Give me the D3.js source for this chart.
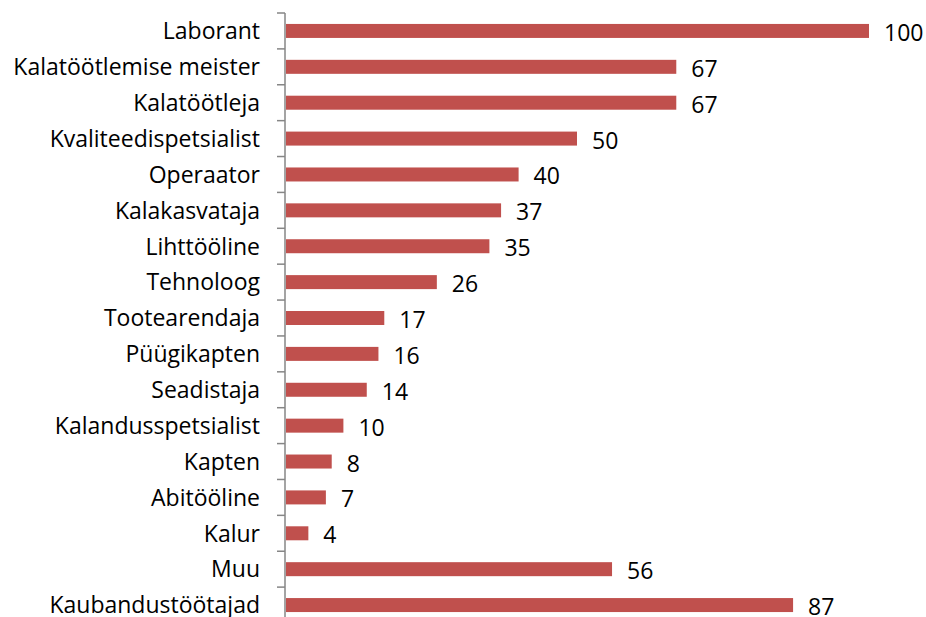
<!DOCTYPE html>
<html>
<head>
<meta charset="utf-8">
<script src="https://cdn.jsdelivr.net/npm/d3@7"></script>
<style>
  body { margin: 0; background: #fff; overflow: hidden; }
  text { font-family: "Open Sans", sans-serif; }
</style>
</head>
<body>
<div id="chart"></div>
<script>
// categories top to bottom
const categories = ["Laborant", "Kalatöötlemise meister", "Kalatöötleja", "Kvaliteedispetsialist",
    "Operaator", "Kalakasvataja", "Lihttööline", "Tehnoloog", "Tootearendaja", "Püügikapten",
    "Seadistaja", "Kalandusspetsialist", "Kapten", "Abitööline", "Kalur", "Muu", "Kaubandustöötajad"];
const values = [100, 67, 67, 50, 40, 37, 35, 26, 17, 16, 14, 10, 8, 7, 4, 56, 87];

const width = 926, height = 617;
const marginLeft = 285, plotTop = 13, plotBottom = 623;
const fontSize = 23;

const svg = d3.select("#chart").append("svg")
    .attr("width", width).attr("height", height);

let x = d3.scaleLinear().domain([0, 100]).range([marginLeft, 869]);
let y = d3.scaleBand().domain(categories).range([plotTop, plotBottom]).paddingInner(0.61).paddingOuter(0.305);

// bars
svg.append("g").selectAll("rect")
    .data(categories)
    .enter().append("rect")
    .attr("x", x(0) + 1)
    .attr("y", d => y(d))
    .attr("width", (d, i) => x(values[i]) - x(0) - 1)
    .attr("height", y.bandwidth())
    .attr("fill", "#c0504d");

// value labels
svg.append("g").selectAll("text")
    .data(categories)
    .enter().append("text")
    .attr("x", (d, i) => x(values[i]) + 15)
    .attr("y", d => y(d) + y.bandwidth() / 2 + 10)
    .attr("font-size", fontSize)
    .attr("fill", "#000")
    .text((d, i) => values[i]);

// category axis
let axis = d3.axisLeft(y).tickSize(0).tickPadding(25);
let g = svg.append("g").attr("transform", `translate(${marginLeft},0)`).call(axis);
g.select(".domain").remove();
g.selectAll("text").attr("font-size", fontSize).attr("fill", "#000")
    .attr("font-family", "'Open Sans', sans-serif").attr("dy", "0.36em");

// axis line and ticks at band boundaries
let step = y.step();
let bounds = d3.range(categories.length + 1).map(i => plotTop + i * step);
svg.append("line")
    .attr("x1", marginLeft).attr("x2", marginLeft)
    .attr("y1", plotTop).attr("y2", plotBottom)
    .attr("stroke", "#868686").attr("stroke-width", 1.5);
svg.append("g").selectAll("line")
    .data(bounds)
    .enter().append("line")
    .attr("x1", marginLeft - 8).attr("x2", marginLeft)
    .attr("y1", d => d).attr("y2", d => d)
    .attr("stroke", "#868686").attr("stroke-width", 1.5);
</script>
</body>
</html>
